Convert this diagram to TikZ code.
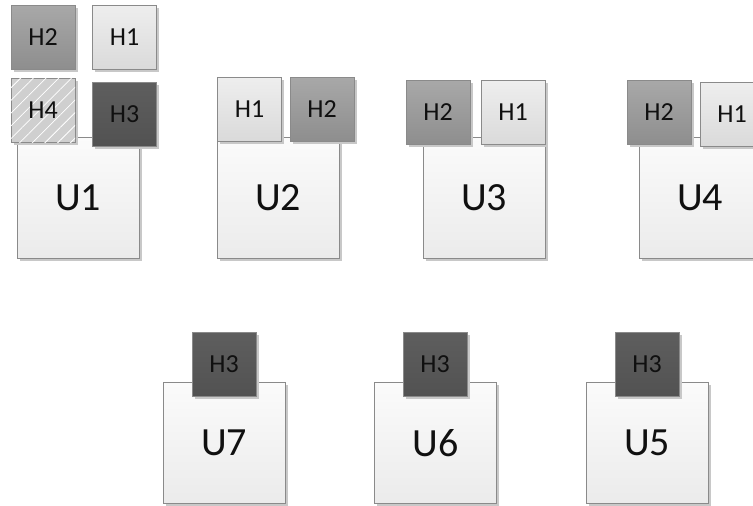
\documentclass[tikz,border=0pt]{standalone}
\usepackage{fontspec}
\setmainfont{Carlito}
\usetikzlibrary{shadows,patterns.meta}
\definecolor{bordergray}{HTML}{8A8A8A}
\definecolor{utop}{HTML}{FBFBFB}
\definecolor{ubot}{HTML}{EBEBEB}
\definecolor{hlighttop}{HTML}{EEEEEE}
\definecolor{hlightbot}{HTML}{DADADA}
\definecolor{hmidtop}{HTML}{A8A8A8}
\definecolor{hmidbot}{HTML}{8E8E8E}
\definecolor{hdarktop}{HTML}{5E5E5E}
\definecolor{hdarkbot}{HTML}{525252}
\definecolor{hatchbg}{HTML}{CFCFCF}
\definecolor{shadowgray}{HTML}{C8C8C8}
\definecolor{textcol}{HTML}{101010}
\tikzset{
  boxbase/.style={draw=bordergray, line width=0.7pt, inner sep=0pt, text=textcol,
    drop shadow={shadow xshift=2.5pt, shadow yshift=-2.5pt, fill=shadowgray, opacity=1}},
  ubox/.style={boxbase, minimum width=122pt, minimum height=121pt,
    top color=utop, bottom color=ubot, font=\fontsize{40}{44}\selectfont},
  hbox/.style={boxbase, minimum width=64pt, minimum height=64pt,
    font=\fontsize{26}{30}\selectfont},
  hone/.style={hbox, top color=hlighttop, bottom color=hlightbot},
  htwo/.style={hbox, top color=hmidtop, bottom color=hmidbot},
  hthree/.style={hbox, top color=hdarktop, bottom color=hdarkbot},
  hfour/.style={hbox, fill=hatchbg,
    postaction={pattern={Lines[angle=45,distance=9pt,line width=0.8pt]}, pattern color=white}},
}
\begin{document}
\begin{tikzpicture}[x=1pt,y=-1pt]
\useasboundingbox (0,0) rectangle (753,506);
\clip (0,0) rectangle (753,506);
\fill[white] (0,0) rectangle (753,506);
% U1 group
\node[ubox] (u1) at (78,197.5) {U1};
\node[htwo] (u1h2) at (43,37) {H2};
\node[hone] (u1h1) at (124.5,37) {H1};
\node[hfour] (u1h4) at (43,110) {H4};
\node[hthree] (u1h3) at (124.5,114.5) {H3};
% U2 group
\node[ubox] (u2) at (278,198) {U2};
\node[hone] (u2h1) at (249.5,109) {H1};
\node[htwo] (u2h2) at (322,109) {H2};
% U3 group
\node[ubox] (u3) at (484,197.5) {U3};
\node[htwo] (u3h2) at (438,112.5) {H2};
\node[hone] (u3h1) at (513,112.5) {H1};
% U4 group
\node[ubox] (u4) at (700,197.5) {U4};
\node[htwo] (u4h2) at (659,112.5) {H2};
\node[hone] (u4h1) at (732,114) {H1};
% bottom row
\node[ubox] (u7) at (224,443) {U7};
\node[hthree] (u7h3) at (224,364) {H3};
\node[ubox] (u6) at (435.5,443) {U6};
\node[hthree] (u6h3) at (435,364) {H3};
\node[ubox] (u5) at (647,443) {U5};
\node[hthree] (u5h3) at (647,364) {H3};
\end{tikzpicture}
\end{document}
